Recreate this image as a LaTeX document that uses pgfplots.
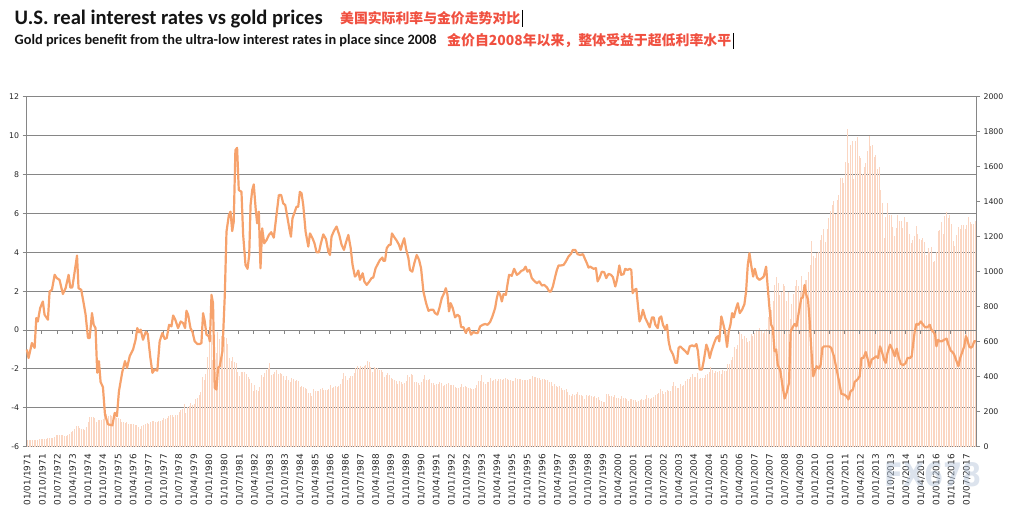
\documentclass[border=0pt]{standalone}
\usepackage{fontspec}
\setmainfont{DejaVu Sans}
\newfontfamily\carlito{Carlito}
\newfontfamily\cjk{Noto Sans CJK SC}
\usepackage{graphicx}
\usepackage{pgfplots}
\usepackage{pgfplotstable}
\pgfplotsset{compat=1.18}

\definecolor{gridgray}{RGB}{134,134,134}
\definecolor{barc}{RGB}{251,214,194}
\definecolor{linec}{RGB}{246,162,108}
\definecolor{redt}{RGB}{240,80,64}
\definecolor{tit}{RGB}{20,20,20}
\definecolor{wm}{RGB}{178,194,216}

% Gold price, monthly 1971-01 ... 2017-12 (one year per line)
\pgfplotstableread[row sep=\\]{
g\\
38.0\\38.9\\38.9\\39.5\\40.5\\40.1\\41.0\\42.7\\42.0\\42.5\\42.9\\43.6\\
48.4\\48.3\\48.3\\49.0\\54.6\\65.1\\66.0\\67.0\\65.5\\65.2\\63.0\\63.9\\
65.1\\74.2\\84.5\\90.5\\102\\120\\120\\106\\103\\100\\94\\112\\
139\\170\\168\\172\\163\\143\\154\\154\\151\\159\\181\\187\\
175\\182\\177\\167\\167\\165\\166\\160\\141\\143\\138\\140\\
128\\132\\129\\128\\125\\123\\113\\104\\117\\124\\130\\135\\
132\\143\\149\\148\\143\\141\\145\\145\\154\\162\\161\\165\\
175\\182\\181\\170\\183\\183\\200\\209\\218\\242\\194\\226\\
233\\251\\240\\246\\275\\278\\297\\315\\397\\383\\416\\512\\
653\\637\\494\\518\\535\\653\\614\\631\\666\\629\\619\\589\\
506\\489\\513\\482\\479\\426\\406\\426\\428\\427\\414\\397\\
387\\363\\320\\350\\325\\317\\342\\411\\397\\424\\436\\448\\
481\\409\\414\\429\\437\\417\\422\\414\\405\\382\\405\\382\\
372\\394\\388\\375\\384\\373\\343\\348\\341\\333\\329\\309\\
306\\288\\330\\321\\317\\317\\327\\334\\326\\325\\325\\327\\
350\\338\\344\\345\\343\\346\\357\\385\\424\\402\\383\\391\\
405\\406\\419\\452\\461\\447\\462\\453\\460\\468\\492\\484\\
456\\426\\457\\451\\452\\436\\437\\427\\397\\412\\423\\410\\
394\\387\\383\\377\\361\\373\\368\\359\\366\\375\\408\\401\\
415\\407\\368\\367\\363\\352\\372\\387\\408\\380\\384\\386\\
366\\363\\355\\357\\360\\368\\362\\347\\355\\357\\366\\353\\
354\\353\\341\\336\\337\\343\\357\\340\\349\\339\\334\\333\\
330\\327\\337\\354\\378\\378\\410\\372\\356\\370\\371\\391\\
377\\382\\389\\376\\387\\388\\384\\386\\394\\389\\383\\383\\
374\\376\\392\\389\\385\\387\\383\\382\\384\\383\\387\\387\\
405\\400\\396\\392\\390\\382\\385\\386\\379\\379\\372\\369\\
345\\358\\348\\340\\345\\334\\326\\325\\332\\311\\296\\290\\
304\\297\\301\\310\\293\\296\\288\\273\\293\\292\\294\\288\\
285\\287\\279\\286\\268\\262\\255\\254\\299\\299\\292\\290\\
283\\293\\278\\276\\273\\288\\276\\278\\273\\264\\270\\272\\
266\\267\\258\\264\\267\\271\\266\\273\\293\\279\\275\\277\\
282\\297\\302\\308\\327\\318\\304\\313\\324\\317\\319\\348\\
368\\348\\334\\337\\361\\346\\354\\376\\388\\386\\398\\417\\
399\\396\\424\\389\\393\\395\\392\\408\\416\\426\\453\\438\\
422\\435\\428\\435\\418\\437\\430\\434\\473\\470\\495\\513\\
569\\556\\582\\654\\643\\614\\633\\624\\600\\604\\646\\632\\
650\\665\\662\\677\\660\\650\\666\\673\\743\\789\\783\\834\\
923\\972\\934\\865\\886\\930\\918\\834\\884\\730\\815\\870\\
920\\952\\917\\884\\975\\926\\955\\950\\996\\1040\\1175\\1088\\
1078\\1109\\1115\\1179\\1208\\1244\\1170\\1246\\1307\\1347\\1383\\1405\\
1327\\1411\\1439\\1535\\1536\\1505\\1628\\1813\\1620\\1722\\1746\\1531\\
1744\\1770\\1662\\1651\\1558\\1598\\1622\\1692\\1776\\1720\\1726\\1657\\
1664\\1588\\1598\\1469\\1394\\1192\\1314\\1394\\1326\\1324\\1254\\1205\\
1251\\1326\\1292\\1288\\1250\\1315\\1285\\1286\\1216\\1164\\1182\\1206\\
1260\\1214\\1187\\1180\\1191\\1172\\1098\\1135\\1114\\1142\\1057\\1060\\
1111\\1234\\1237\\1285\\1215\\1320\\1343\\1309\\1323\\1273\\1178\\1146\\
1212\\1255\\1245\\1266\\1266\\1243\\1267\\1311\\1283\\1271\\1275\\1291\\
}\goldtable

% US real interest rate (month index from 1971-01, percent)
\pgfplotstableread[row sep=\\]{
x y\\
-0.4 -1.0\\0.6 -1.44\\2.6 -0.67\\4.2 -0.92\\5.2 0.62\\6.1 0.44\\7.5 1.13\\9.1 1.47\\10.1 0.79\\12.1 0.53\\
13.1 1.98\\14.5 2.07\\16.1 2.84\\17.4 2.67\\19.0 2.58\\21.0 1.85\\22.6 2.15\\24.4 2.84\\25.4 2.19\\26.6 2.19\\
28.0 3.0\\29.4 3.83\\30.3 2.15\\31.9 2.07\\33.5 1.3\\34.5 0.79\\35.9 -0.41\\36.9 -0.41\\38.3 0.87\\39.3 0.27\\
40.4 0.1\\41.4 -2.2\\42.4 -1.6\\43.4 -2.67\\44.8 -2.94\\46.0 -4.34\\47.8 -4.85\\50.4 -4.9\\51.8 -4.26\\53.1 -4.43\\
54.3 -3.15\\56.3 -2.15\\57.9 -1.6\\59.1 -1.95\\60.7 -1.35\\62.7 -1.0\\64.2 -0.5\\65.2 0.1\\66.2 -0.12\\67.2 0.02\\
68.6 -0.5\\70.2 -0.1\\71.4 -0.2\\73.0 -1.44\\74.2 -2.2\\75.5 -2.03\\77.1 -2.09\\78.5 -0.58\\80.1 -0.15\\81.5 -0.46\\
82.7 -0.41\\84.1 0.27\\85.5 0.19\\86.5 0.75\\87.8 0.53\\89.4 0.1\\91.0 0.44\\92.4 0.36\\93.6 0.1\\94.4 0.99\\
95.4 0.79\\96.8 0.1\\98.0 -0.1\\99.3 -0.58\\100.9 -0.72\\102.3 -0.72\\103.3 -0.67\\104.3 0.87\\105.3 0.44\\106.3 -0.24\\
107.7 -0.32\\108.3 -0.58\\109.3 1.81\\110.2 1.38\\111.2 -2.97\\112.2 -3.06\\113.2 -1.95\\114.2 -1.86\\115.8 -1.09\\117.2 1.81\\
118.2 5.06\\119.6 5.91\\120.6 6.09\\121.6 5.09\\122.5 5.57\\123.5 9.25\\124.5 9.37\\125.5 7.2\\127.1 7.11\\128.1 4.89\\
129.5 3.35\\130.7 3.15\\131.7 3.86\\132.5 6.43\\133.5 7.2\\134.4 7.49\\135.6 6.17\\136.4 5.49\\137.4 6.09\\138.4 3.18\\
139.4 5.23\\140.6 4.46\\142.0 4.63\\143.4 4.89\\144.8 5.03\\146.3 4.75\\147.9 5.91\\149.3 6.94\\150.7 6.94\\151.9 6.51\\
153.1 6.43\\154.5 5.74\\155.5 5.23\\156.5 4.8\\157.4 5.74\\158.8 6.09\\159.8 6.34\\160.8 6.34\\161.8 7.11\\162.8 7.03\\
163.8 6.43\\165.2 5.06\\166.8 4.29\\167.8 4.97\\169.3 4.72\\170.5 4.46\\171.7 4.0\\173.1 4.0\\174.3 4.46\\175.7 4.92\\
177.3 4.68\\178.7 4.03\\179.7 3.86\\180.6 4.8\\182.0 5.09\\183.6 5.32\\185.2 4.89\\186.6 4.38\\188.0 4.12\\189.2 4.51\\
190.6 4.89\\192.0 4.21\\193.1 3.35\\194.5 2.75\\195.5 2.84\\196.5 3.06\\197.5 2.58\\199.1 2.92\\200.1 2.5\\201.5 2.32\\
203.1 2.5\\204.4 2.67\\205.4 2.7\\206.8 3.18\\208.0 3.38\\209.4 3.61\\210.8 3.73\\211.4 3.56\\212.4 3.56\\213.4 4.21\\
214.8 4.38\\215.7 4.38\\216.5 4.97\\217.7 4.8\\219.3 4.6\\220.7 4.38\\221.7 4.12\\222.9 4.5\\223.8 4.72\\224.9 4.17\\
226.3 3.69\\227.2 3.09\\228.6 3.0\\229.8 3.44\\231.2 3.86\\232.6 3.61\\233.8 3.18\\235.2 1.98\\236.8 1.38\\238.2 0.99\\
239.5 1.04\\241.1 1.04\\242.1 0.87\\243.5 0.79\\244.7 1.13\\246.1 1.64\\247.5 1.9\\248.5 2.15\\249.5 1.81\\250.4 0.96\\
251.4 1.38\\252.6 1.13\\254.0 0.65\\255.4 0.79\\256.6 0.7\\257.6 0.15\\259.0 0.14\\260.4 -0.15\\261.4 0.05\\262.3 0.1\\
263.5 -0.24\\264.9 -0.1\\266.3 -0.15\\267.5 -0.15\\268.9 0.19\\270.5 0.27\\271.9 0.31\\273.3 0.27\\274.8 0.41\\276.2 0.7\\
277.8 1.13\\278.8 1.64\\279.8 1.98\\280.8 1.81\\281.8 1.47\\282.8 1.85\\284.2 1.81\\285.1 2.32\\286.1 2.84\\287.7 2.79\\
289.1 3.15\\290.7 2.84\\292.1 2.92\\293.3 3.04\\294.7 3.09\\295.9 3.26\\297.0 3.0\\298.2 3.09\\299.6 2.67\\301.0 2.53\\
302.6 2.41\\304.0 2.5\\305.6 2.29\\307.0 2.32\\308.6 2.19\\310.0 1.98\\310.9 1.98\\312.1 2.24\\313.5 2.75\\314.5 3.09\\
315.5 3.32\\316.9 3.32\\318.5 3.35\\319.8 3.52\\321.4 3.78\\322.8 3.91\\324.0 4.12\\325.4 4.12\\326.8 3.9\\328.4 3.86\\
330.0 3.9\\331.0 3.69\\332.3 3.44\\333.3 3.21\\334.3 3.26\\336.3 3.15\\337.7 3.18\\338.7 2.5\\339.9 2.7\\341.2 3.0\\
342.6 2.97\\343.8 2.67\\345.2 2.89\\346.6 2.84\\347.8 2.72\\349.2 2.24\\350.2 2.58\\351.6 3.32\\352.7 2.84\\354.1 2.87\\
355.1 3.15\\356.5 3.09\\357.7 3.15\\358.7 3.09\\359.5 1.9\\360.7 2.07\\361.7 2.12\\362.7 1.21\\363.6 0.44\\364.6 0.65\\
365.6 1.04\\367.0 0.62\\368.0 0.44\\369.6 0.14\\371.0 0.65\\372.0 0.65\\373.0 0.27\\374.4 0.1\\375.4 0.62\\376.5 0.7\\
377.5 0.27\\378.9 0.02\\379.9 0.27\\380.9 -0.58\\381.9 -1.0\\383.5 -1.26\\384.9 -1.69\\385.9 -1.69\\386.8 -0.92\\387.8 -0.84\\
389.2 -0.96\\390.8 -1.09\\392.2 -1.23\\393.4 -0.84\\394.8 -0.79\\396.2 -0.84\\397.4 -0.72\\398.3 -1.09\\399.3 -2.03\\400.7 -2.03\\
401.7 -1.6\\403.3 -0.75\\404.3 -1.0\\405.3 -1.44\\406.3 -1.09\\407.7 -0.72\\409.1 -0.41\\410.2 -0.32\\411.0 -0.58\\412.2 0.7\\
413.2 0.36\\414.4 -0.07\\415.6 -0.87\\416.6 -0.07\\417.6 0.27\\418.6 0.87\\419.6 0.65\\421.0 1.13\\422.0 1.38\\423.1 0.87\\
424.5 1.04\\425.9 1.33\\426.9 1.98\\427.9 3.35\\428.9 3.95\\429.9 3.35\\431.1 2.75\\432.1 3.15\\433.4 2.7\\434.8 2.58\\
436.4 2.67\\437.4 2.75\\438.8 3.26\\439.8 2.15\\440.8 1.13\\441.8 0.27\\442.8 0.1\\443.8 -1.09\\444.8 -1.0\\445.7 -1.78\\
447.3 -2.12\\448.4 -2.8\\449.8 -3.52\\451.0 -3.23\\452.4 -2.72\\453.4 -0.07\\454.3 0.1\\455.7 0.31\\456.9 0.19\\458.3 0.96\\
459.7 1.64\\460.7 1.68\\461.7 2.32\\462.7 1.81\\463.7 1.56\\464.7 0.44\\465.6 -0.92\\466.8 -2.38\\467.8 -2.12\\468.8 -1.86\\
470.2 -1.98\\471.2 -1.78\\472.2 -0.92\\473.2 -0.84\\474.6 -0.84\\476.2 -0.84\\477.5 -0.92\\479.1 -1.35\\480.5 -1.95\\482.1 -2.63\\
483.5 -3.28\\485.1 -3.32\\486.5 -3.4\\487.7 -3.57\\489.0 -3.15\\490.4 -3.06\\491.4 -2.67\\493.0 -2.55\\494.4 -2.38\\495.4 -1.44\\
496.6 -1.44\\498.0 -1.13\\499.0 -1.44\\500.3 -1.91\\501.5 -1.52\\502.9 -1.44\\504.3 -1.35\\505.3 -1.44\\506.5 -0.84\\507.5 -1.09\\
508.9 -1.52\\509.9 -1.69\\510.9 -1.18\\512.4 -0.75\\513.8 -1.0\\515.2 -1.35\\516.4 -0.96\\517.4 -1.35\\518.8 -1.74\\520.2 -1.81\\
521.8 -1.69\\522.8 -1.44\\524.3 -1.44\\525.3 -1.35\\526.1 -0.75\\527.1 -0.07\\528.1 0.31\\529.3 0.27\\530.7 0.44\\532.1 0.27\\
533.3 0.14\\534.6 0.14\\536.0 0.27\\537.0 0.02\\538.2 -0.1\\539.2 -0.24\\540.0 -0.84\\541.0 -0.5\\542.0 -0.58\\543.2 -0.58\\
544.6 -0.5\\546.0 -0.44\\547.1 -0.75\\548.5 -1.06\\549.5 -1.13\\550.5 -1.26\\551.9 -1.6\\553.1 -1.86\\554.1 -1.44\\555.5 -1.09\\
556.5 -0.84\\557.5 -0.32\\558.4 -0.5\\559.4 -0.84\\560.4 -0.92\\561.4 -0.84\\562.4 -0.58\\563.4 -0.58\\
}\ratetable

\pgfplotsset{
  base/.style={
    at={(26.7pt,65.3pt)}, anchor=south west,
    width=949.3pt, height=350pt, scale only axis,
    xmin=-0.5, xmax=563.5,
    /pgf/number format/assume math mode=true,
    /pgf/number format/1000 sep={},
    tick align=outside, major tick length=4pt,
    tick style={gridgray, line width=0.9pt},
    axis line style={gridgray, line width=0.9pt},
    yticklabel style={font=\fontsize{7.8}{9}\selectfont, text=black!85},
  }
}

\begin{document}
\begin{tikzpicture}[x=1pt,y=1pt]
\path[use as bounding box] (0,0) rectangle (1012,512);

% titles
\node[anchor=base west, inner sep=0, text=tit] at (14.5,487)
  {\resizebox{308pt}{!}{\carlito\bfseries U.S. real interest rates vs gold prices}};
\node[anchor=base west, inner sep=0, text=tit] at (14.5,467)
  {\resizebox{422pt}{!}{\carlito\bfseries Gold prices benefit from the ultra-low interest rates in place since 2008}};
\node[anchor=base west, inner sep=0, text=redt] at (340,488.3)
  {\resizebox{180pt}{!}{\cjk\bfseries 美国实际利率与金价走势对比}};
\node[anchor=base west, inner sep=0, text=redt] at (447,466.4)
  {\resizebox{284pt}{!}{\cjk\bfseries 金价自2008年以来，整体受益于超低利率水平}};
\draw[black, line width=0.8pt] (522,502) -- (522,485);
\draw[black, line width=0.8pt] (733,479) -- (733,463);

% background: left axis, grid, date labels
\begin{axis}[base,
  ymin=-6, ymax=12, ytick={-6,-4,...,12},
  axis x line*=bottom, axis y line*=left,
  ymajorgrids, grid style={gridgray, line width=0.9pt},
  xtick={0,9,...,558}, xtick style={draw=none},
  xticklabel={\pgfmathtruncatemacro\tk{round(\tick)}\pgfmathtruncatemacro\yr{1971+floor(\tk/12)}\pgfmathtruncatemacro\mo{mod(\tk,12)+1}01/\ifnum\mo<10 0\fi\mo/\yr},
  xticklabel style={rotate=90, anchor=east, font=\fontsize{8.9}{10}\selectfont, text=black!85},
]
\addplot[draw=none] coordinates {(0,0)};
\end{axis}

% gold price bars, right axis
\begin{axis}[base,
  ymin=0, ymax=2000, ytick={0,200,...,2000},
  axis x line=none, axis y line*=right,
]
\addplot[ycomb, no markers, barc, line width=1.0pt] table[x expr=\coordindex, y=g] {\goldtable};
\end{axis}

% real interest rate line, zero axis with ticks
\begin{axis}[base, ymin=-6, ymax=12, hide axis, clip=false]
\addplot[gridgray, line width=0.9pt, no markers] coordinates {(-0.5,0) (563.5,0)};
\pgfplotsinvokeforeach{8.5,17.5,...,557.5}{\draw[gridgray, line width=0.9pt] (axis cs:#1,0) -- ++(0pt,-3.5pt);}
\addplot[linec, line width=2.2pt, no markers, line join=round] table[x=x, y=y] {\ratetable};
\end{axis}

% watermark
\node[text=wm, opacity=0.45, inner sep=0] at (933,37) {\resizebox{97pt}{24pt}{\bfseries FX678}};
\end{tikzpicture}
\end{document}
